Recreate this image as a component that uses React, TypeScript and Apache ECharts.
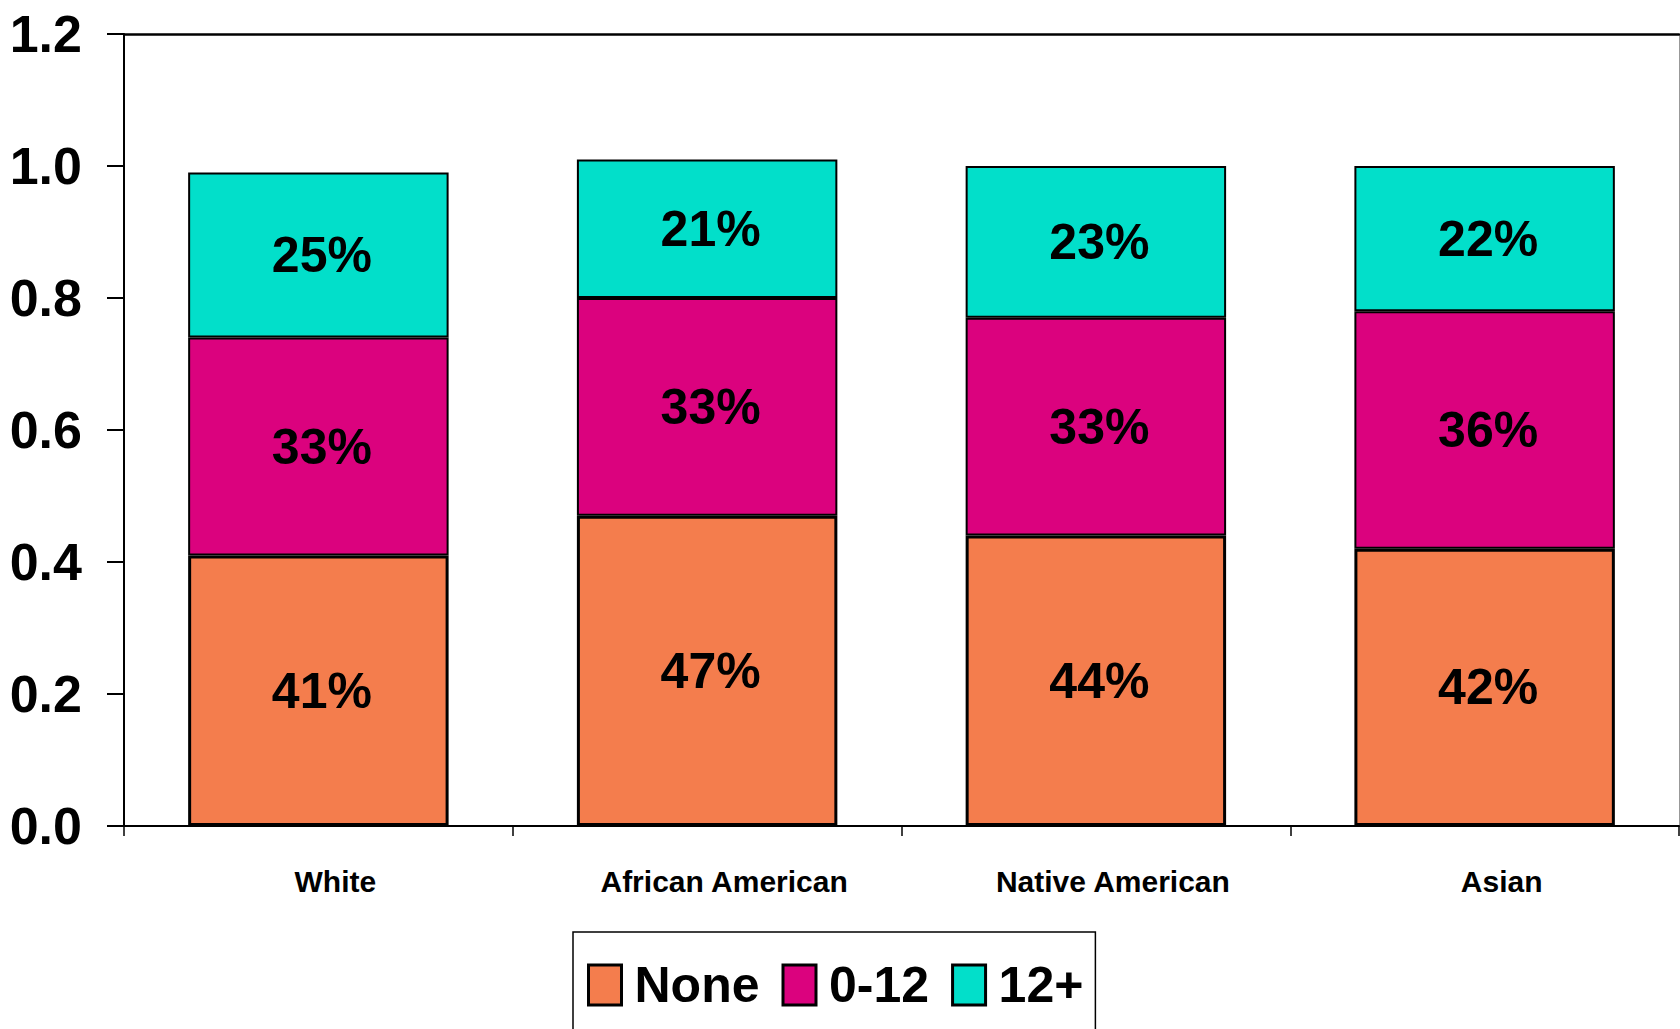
import React, { useEffect, useRef } from "react";
import * as echarts from "echarts";

const categories = ["White", "African American", "Native American", "Asian"];
const seriesNames = ["None", "0-12", "12+"];
const noneValues = [41, 47, 44, 42];
const zeroTo12Values = [33, 33, 33, 36];
const over12Values = [25, 21, 23, 22];
const yTicks = [0, 0.2, 0.4, 0.6, 0.8, 1.0, 1.2];
const colors = ["#F47D4D", "#DB027E", "#02DFCA"];

const FONT = "'Liberation Sans Narrow', 'Liberation Sans', Arial, sans-serif";

export default function App() {
  const ref = useRef<HTMLDivElement>(null);
  useEffect(() => {
    if (!ref.current) return;
    const chart = echarts.init(ref.current, null, { renderer: "svg" });
    const all = [noneValues, zeroTo12Values, over12Values];
    const series = all.map((vals, i) => ({
      name: seriesNames[i],
      type: "bar",
      stack: "total",
      barWidth: "67%",
      data: vals.map((v) => v / 100),
      itemStyle: {
        color: colors[i],
        borderColor: "#000",
        borderWidth: i === 0 ? 3 : 2,
      },
      label: {
        show: true,
        position: "inside",
        formatter: (p: any) => `${Math.round(p.value * 100)}%`,
        color: "#000",
        fontFamily: FONT,
        fontWeight: "bold",
        fontSize: 50,
        padding: [0, 0, 0, 7],
      },
      emphasis: { disabled: true },
    }));
    chart.setOption({
      animation: false,
      backgroundColor: "#fff",
      textStyle: { fontFamily: FONT },
      grid: {
        left: 124,
        right: 1,
        top: 34,
        bottom: 203,
        containLabel: false,
        outerBoundsMode: "none",
      },
      legend: {
        top: 932,
        left: 573,
        data: seriesNames,
        icon: "rect",
        itemWidth: 33,
        itemHeight: 40,
        itemGap: 22,
        padding: [28, 12, 30, 14],
        borderColor: "#000",
        borderWidth: 1.5,
        backgroundColor: "#fff",
        itemStyle: { borderColor: "#000", borderWidth: 3 },
        textStyle: {
          fontFamily: FONT,
          fontWeight: "bold",
          fontSize: 50,
          color: "#000",
          padding: [0, 0, 0, 8],
        },
      },
      xAxis: [
        {
          type: "category",
          data: categories,
          position: "bottom",
          axisLine: { show: true, onZero: false, lineStyle: { color: "#000", width: 2 } },
          axisTick: { show: true, length: 10, lineStyle: { color: "#000", width: 1.5 } },
          axisLabel: {
            color: "#000",
            fontFamily: FONT,
            fontWeight: "bold",
            fontSize: 30,
            margin: 40,
            padding: [0, 0, 0, 34],
          },
        },
        {
          type: "category",
          data: categories,
          position: "top",
          axisLine: { show: true, onZero: false, lineStyle: { color: "#000", width: 2.5 } },
          axisTick: { show: false },
          axisLabel: { show: false },
        },
      ],
      yAxis: [
        {
          type: "value",
          min: 0,
          max: 1.2,
          interval: 0.2,
          position: "left",
          splitLine: { show: false },
          axisLine: { show: true, lineStyle: { color: "#000", width: 2 } },
          axisTick: { show: true, inside: false, length: 17, lineStyle: { color: "#000", width: 2 } },
          axisLabel: {
            color: "#000",
            fontFamily: FONT,
            fontWeight: "bold",
            fontSize: 52,
            margin: 42,
            formatter: (v: number) => {
              const t = yTicks.find((x) => Math.abs(x - v) < 1e-9);
              return (t ?? v).toFixed(1);
            },
          },
        },
        {
          type: "value",
          min: 0,
          max: 1.2,
          interval: 0.2,
          position: "right",
          splitLine: { show: false },
          axisLine: { show: true, onZero: false, lineStyle: { color: "#999", width: 1 } },
          axisTick: { show: false },
          axisLabel: { show: false },
        },
      ],
      series,
    });
    return () => chart.dispose();
  }, []);
  return <div ref={ref} style={{ width: 1680, height: 1029, position: "absolute", left: 0, top: 0 }} />;
}
